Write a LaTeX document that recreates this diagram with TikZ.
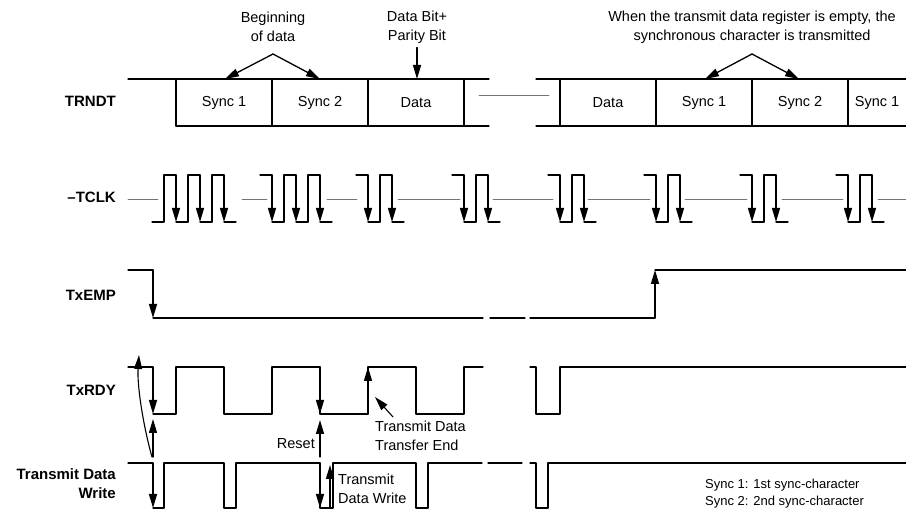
\documentclass[tikz,border=0pt]{standalone}
\usepackage{fontspec}
\setmainfont{Liberation Sans}
\usetikzlibrary{arrows.meta}

\begin{document}
\begin{tikzpicture}[x=1pt,y=-1pt,line cap=round,line join=round,
  every node/.style={inner sep=0pt},
  wave/.style={line width=1.3pt},
  edge/.style={line width=1.3pt,-{Triangle[length=14pt,width=8pt]}},
  gapline/.style={line width=0.6pt,black!55},
  sig/.style={anchor=east,align=right,font=\fontsize{15}{19}\selectfont\bfseries},
  note/.style={align=center,font=\fontsize{14.5}{19}\selectfont}]
  \useasboundingbox (0,0) rectangle (906,510);

  % signal names
  \node[sig] (trndt) at (116,101) {TRNDT};
  \node[sig] (tclk) at (116,197) {–TCLK};
  \node[sig] (txemp) at (116,295) {TxEMP};
  \node[sig] (txrdy) at (116,390) {TxRDY};
  \node[sig] (tdw) at (116,484) {Transmit Data\\Write};

  % TRNDT frame
  \draw[wave] (128,79) -- (489,79);
  \draw[wave] (176,126) -- (489,126);
  \draw[wave] (536,79) -- (906,79);
  \draw[wave] (536,126) -- (906,126);
  \foreach \x in {176,272,368,464,560,656,752,848} {
    \draw[wave] (\x,79) -- (\x,126);
  }
  \draw[gapline] (479,95) -- (549,95);
  \node[note] (sync1a) at (224,103) {Sync 1};
  \node[note] (sync2a) at (320,103) {Sync 2};
  \node[note] (dataa) at (416,103) {Data};
  \node[note] (datab) at (608,103) {Data};
  \node[note] (sync1b) at (704,103) {Sync 1};
  \node[note] (sync2b) at (800,103) {Sync 2};
  \node[note] (sync1c) at (877,103) {Sync 1};

  % notes above the frame
  \node[note] (begin) at (273,27) {Beginning\\of data};
  \node[note] (parity) at (417,27) {Data Bit+\\Parity Bit};
  \node[note] (empty) at (752,27) {When the transmit data register is empty, the\\synchronous character is transmitted};
  \coordinate (apexA) at (273,54);
  \coordinate (apexB) at (752,54);
  \coordinate (topS1a) at (225,79);
  \coordinate (topS2a) at (320,79);
  \coordinate (topData) at (417,79);
  \coordinate (topS1b) at (705,79);
  \coordinate (topS2b) at (799,79);
  \draw[edge] (apexA) -- (topS1a);
  \draw[edge] (apexA) -- (topS2a);
  \draw[edge] (parity.south) ++(0,4) -- (topData);
  \draw[edge] (apexB) -- (topS1b);
  \draw[edge] (apexB) -- (topS2b);

  % -TCLK
  \foreach \a/\b in {128/158,242/267,327/357,398/460,493/553,588/650,685/747,782/843,878/906} {
    \draw[gapline] (\a,199) -- (\b,199);
  }
  \draw[wave] (152,222) -- (164,222) -- (164,175) -- (176,175);
  \foreach \k in {1,2,3} {
    \pgfmathsetmacro\xf{176+24*(\k-1)}
    \draw[edge] (\xf,175) -- (\xf,222);
    \draw[wave] (\xf,222) -- ++(12,0);
    \ifnum\k<3 \draw[wave] (\xf+12,222) |- (\xf+24,175); \fi
  }
  \foreach \xa/\n in {272/3,368/2,464/2,560/2,656/2,752/2,848/2} {
    \draw[wave] (\xa-12,175) -- (\xa,175);
    \foreach \k in {1,...,\n} {
      \pgfmathsetmacro\xf{\xa+24*(\k-1)}
      \draw[edge] (\xf,175) -- (\xf,222);
      \draw[wave] (\xf,222) -- ++(12,0);
      \ifnum\k<\n \draw[wave] (\xf+12,222) |- (\xf+24,175); \fi
    }
  }

  % TxEMP
  \draw[wave] (128,270) -- (153,270);
  \draw[edge] (153,270) -- (153,318);
  \draw[wave] (153,318) -- (483,318);
  \draw[wave] (490,318) -- (525,318);
  \draw[wave] (530,318) -- (655,318);
  \draw[edge] (655,318) -- (655,270);
  \draw[wave] (655,270) -- (906,270);

  % TxRDY
  \draw[wave] (128,367) -- (153,367);
  \draw[edge] (153,367) -- (153,414);
  \draw[wave] (153,414) -| (176,367) -| (224,414) -| (272,367) -| (320,414)
    -| (368,367) -| (416,414) -| (464,367) -- (483,367);
  \draw[edge] (320,367) -- (320,414);
  \draw[edge] (368,414) -- (368,367);
  \draw[wave] (530,367) -| (536,414) -| (560,367) -- (906,367);

  % Transmit Data Write
  \draw[wave] (128,463) -- (153,463);
  \draw[edge] (153,463) -- (153,508);
  \draw[wave] (153,508) -| (164,463) -| (224,508) -| (236,463) -| (320,508)
    -| (333,463) -| (416,508) -| (428,463) -- (482,463);
  \draw[edge] (320,463) -- (320,508);
  \draw[edge] (330,508) -- (330,465);
  \draw[wave] (488,463) -- (522,463);
  \draw[wave] (530,463) -| (536,508) -| (548,463) -- (906,463);

  % write -> ready
  \draw[edge] (153,457) -- (153,419);
  \draw[edge,line width=1.1pt] (152,457) .. controls (143,425) and (137,385) .. (139,355);
  \draw[edge] (320,457) -- (320,420);
  \node[note,anchor=east] (reset) at (315,444) {Reset};
  \node[note,anchor=west,align=left] (endnote) at (375,436) {Transmit Data\\Transfer End};
  \coordinate (endtip) at (375,397);
  \draw[edge,line width=1.1pt] (endnote.north west) ++(18,-4) -- (endtip);
  \node[note,anchor=west,align=left] (writenote) at (338,489) {Transmit\\Data Write};

  % legend
  \node[anchor=west,align=left,font=\fontsize{13}{17}\selectfont] (legend) at (705,494)
    {Sync 1: 1st sync-character\\Sync 2: 2nd sync-character};
\end{tikzpicture}
\end{document}
